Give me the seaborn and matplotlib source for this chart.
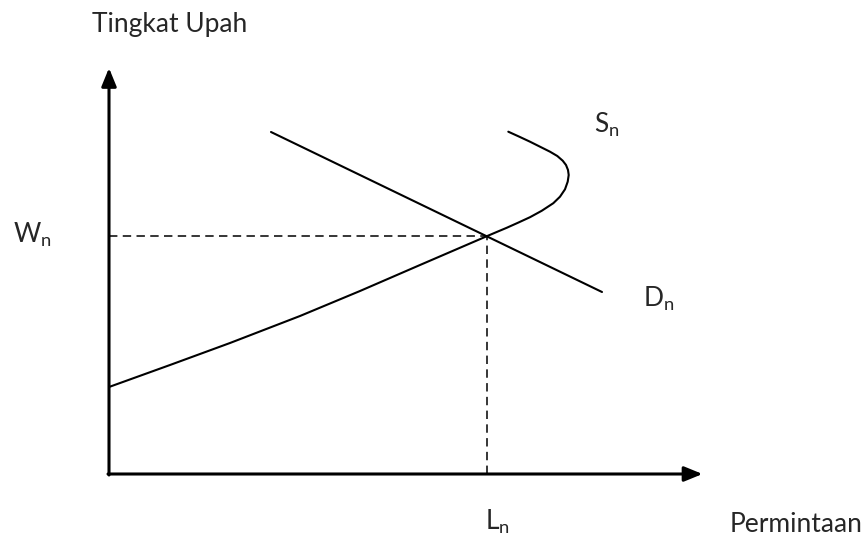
import matplotlib
matplotlib.use("Agg")
import matplotlib.pyplot as plt
import seaborn as sns
import pandas as pd

# Supply curve (quantity, wage), bends back at the top
supply_q = [0.0, 6.1, 12.1, 19.1, 25.1, 31.1, 37.83, 38.77, 39.77, 40.93, 42.1,
            43.27, 44.43, 45.1, 45.6, 45.87, 45.97, 45.9, 45.7, 45.37, 44.83,
            44.1, 43.1, 42.1, 41.03, 39.93]
supply_w = [8.7, 10.9, 13.1, 15.8, 18.3, 20.9, 23.8, 24.2, 24.62, 25.14, 25.68,
            26.32, 27.08, 27.73, 28.47, 29.23, 29.9, 30.4, 30.9, 31.33, 31.8,
            32.23, 32.73, 33.23, 33.73, 34.23]

# Demand line end points
demand_q = [16.2, 49.3]
demand_w = [34.2, 18.2]

# Equilibrium
eq_q = 37.8
eq_w = 23.8

# Axis extents (arrow tips)
q_max = 59.35
w_max = 40.6

supply = pd.DataFrame({"q": supply_q, "w": supply_w})
demand = pd.DataFrame({"q": demand_q, "w": demand_w})

sns.set_style("white")
plt.rcParams["font.family"] = ["Lato", "DejaVu Sans"]
plt.rcParams["mathtext.fontset"] = "custom"
plt.rcParams["mathtext.rm"] = "Lato"

fig = plt.figure(figsize=(8.65, 5.37), dpi=100)
ax = fig.add_axes([0, 0, 1, 1])
ax.set_xlim(-10.9, 75.6)
ax.set_ylim(-6.3, 47.4)
ax.axis("off")

# curves
sns.lineplot(data=supply, x="q", y="w", sort=False, estimator=None,
             color="black", lw=1.5, ax=ax, solid_joinstyle="round")
sns.lineplot(data=demand, x="q", y="w", sort=False, estimator=None,
             color="black", lw=1.5, ax=ax)

# dashed guides to the equilibrium
ax.plot([0, eq_q], [eq_w, eq_w], color="black", lw=1.1, dashes=(5.5, 3.5))
ax.plot([eq_q, eq_q], [0, eq_w], color="black", lw=1.1, dashes=(5.5, 3.5))

# axes with arrow heads
arrow = dict(arrowstyle="-|>,head_length=1.1,head_width=0.45", lw=2.2,
             color="black", shrinkA=0, shrinkB=0, mutation_scale=10)
ax.annotate("", xy=(q_max, 0), xytext=(-0.1, 0), arrowprops=arrow)
ax.annotate("", xy=(0, w_max), xytext=(0, -0.1), arrowprops=arrow)

fs = 19
ax.text(-1.7, 44.2, "Tingkat Upah", fontsize=fs, va="baseline")
ax.text(-9.57, 23.1, r"$\mathregular{W_n}$", fontsize=fs, va="baseline")
ax.text(48.5, 34.1, r"$\mathregular{S_n}$", fontsize=fs, va="baseline")
ax.text(53.4, 16.7, r"$\mathregular{D_n}$", fontsize=fs, va="baseline")
ax.text(37.6, -5.6, r"$\mathregular{L_n}$", fontsize=fs, va="baseline")
ax.text(75.3, -5.75, "Permintaan", fontsize=fs, va="baseline", ha="right")

fig.savefig("out.png", dpi=100)
